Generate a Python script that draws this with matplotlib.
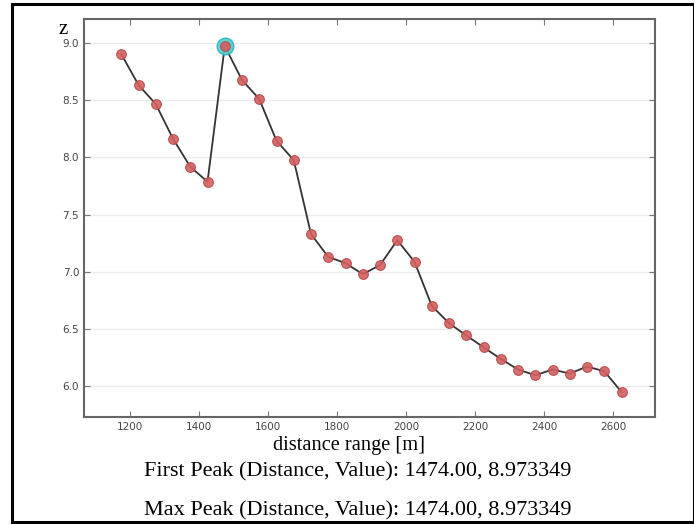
import matplotlib
matplotlib.use("Agg")
import matplotlib.pyplot as plt
from matplotlib.patches import Rectangle

distance = [1174, 1224, 1274, 1324, 1374, 1424, 1474, 1524, 1574, 1624,
            1674, 1724, 1774, 1824, 1874, 1924, 1974, 2024, 2074, 2124,
            2174, 2224, 2274, 2324, 2374, 2424, 2474, 2524, 2574, 2624]
z_values = [8.904, 8.633, 8.466, 8.163, 7.918, 7.787, 8.973349, 8.676, 8.510, 8.145,
            7.976, 7.329, 7.130, 7.075, 6.979, 7.058, 7.276, 7.087, 6.702, 6.550,
            6.443, 6.340, 6.238, 6.145, 6.095, 6.145, 6.110, 6.171, 6.130, 5.949]
peak_distance = 1474.00
peak_value = 8.973349
x_ticks = [1200, 1400, 1600, 1800, 2000, 2200, 2400, 2600]
y_ticks = [6.0, 6.5, 7.0, 7.5, 8.0, 8.5, 9.0]

W, H = 694, 524
fig = plt.figure(figsize=(W / 100, H / 100), dpi=100)
ax = fig.add_axes([84 / W, 1 - 417 / H, (655 - 84) / W, (417 - 19) / H])

ax.yaxis.grid(True, color="#ececec", linewidth=1.0)
ax.set_axisbelow(True)
ax.plot(distance, z_values, color="#333333", linewidth=1.3, zorder=2)
ax.plot(distance, z_values, linestyle="none", marker="o", markersize=7,
        markerfacecolor="#d45f5f", markeredgecolor="#b34a4a", markeredgewidth=0.8,
        alpha=0.9, zorder=3)
ax.plot([peak_distance], [peak_value], linestyle="none", marker="o", markersize=12,
        markerfacecolor="#4fd0d0", markeredgecolor="#2ab5b5", markeredgewidth=1.0,
        alpha=0.9, zorder=2.5)

ax.set_xlim(1066, 2721)
ax.set_ylim(5.73, 9.21)
ax.set_xticks(x_ticks)
ax.set_yticks(y_ticks)
ax.set_yticklabels([f"{v:.1f}" for v in y_ticks])
ax.tick_params(direction="in", length=4, width=0.8, colors="#777777",
               labelcolor="#444444", labelsize=7.5, top=True, right=True)
for s in ax.spines.values():
    s.set_color("#666666")
    s.set_linewidth(1.5)

serif = ["Liberation Serif", "DejaVu Serif"]
fig.text(349 / W, 1 - 450 / H, "distance range [m]", fontsize=14.7, family=serif,
         ha="center", va="baseline")
fig.text(63 / W, 1 - 34 / H, "z", fontsize=15, family=serif, ha="center", va="baseline")
fig.text(358 / W, 1 - 476 / H, f"First Peak (Distance, Value): {peak_distance:.2f}, {peak_value:.6f}",
         fontsize=16, family=serif, ha="center", va="baseline")
fig.text(358 / W, 1 - 515 / H, f"Max Peak (Distance, Value): {peak_distance:.2f}, {peak_value:.6f}",
         fontsize=16, family=serif, ha="center", va="baseline")

fig.patches.append(Rectangle((12 / W, 1 - 522 / H), (694 - 12) / W, (522 - 4) / H,
                             transform=fig.transFigure, fill=False,
                             edgecolor="black", linewidth=2.2))

fig.savefig("out.png", dpi=100)
